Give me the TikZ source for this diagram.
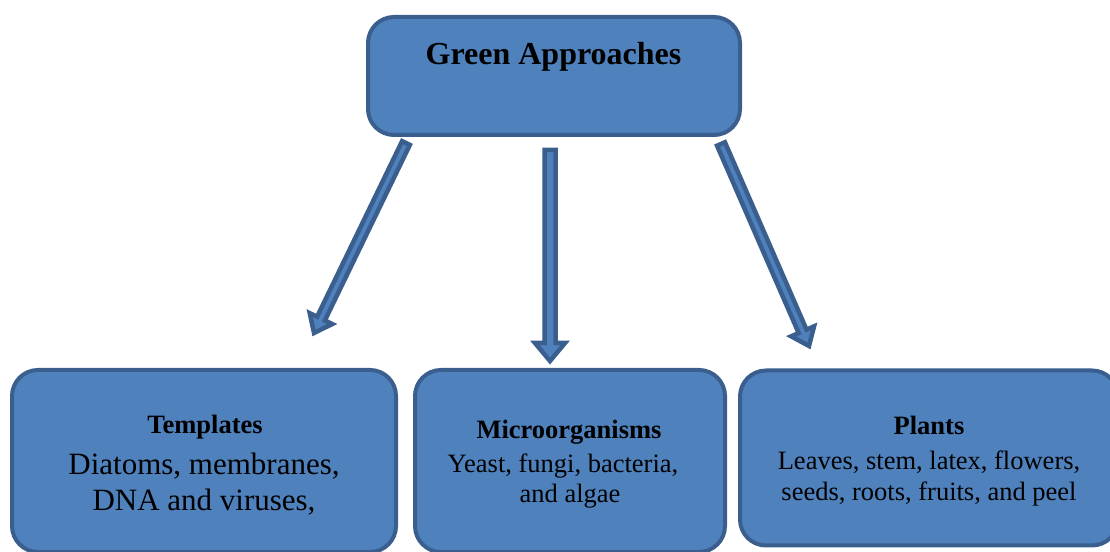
\documentclass[tikz,border=0pt]{standalone}
\usepackage{fontspec}
\setmainfont{Liberation Serif}
\newfontfamily\tnr{Liberation Serif}
\usetikzlibrary{calc}
\definecolor{boxfill}{HTML}{4F81BD}
\definecolor{boxline}{HTML}{3A5F8F}
\tikzset{
  box/.style={draw=boxline, fill=boxfill, line width=4pt, rounded corners=26pt, inner sep=0pt, rectangle},
  txt/.style={inner sep=0pt, text=black, anchor=base},
  ttl/.style={txt, font=\tnr\bfseries\fontsize{26.5}{30}\selectfont},
  body/.style={txt, font=\tnr\fontsize{26.5}{30}\selectfont},
  bigbody/.style={txt, font=\tnr\fontsize{31}{35}\selectfont},
  barrow/.style={draw=boxline, fill=boxfill, line width=4.5pt, line join=miter},
}
% #1 start, #2 end, #3 shaft half width, #4 head half width, #5 head length
\newcommand\blockarrow[5]{%
  \coordinate (#1h) at ($(#2)!#5!(#1)$);
  \draw[barrow] ($(#1)!#3!90:(#2)$) -- ($(#1h)!#3!90:(#2)$) -- ($(#1h)!#4!90:(#2)$)
    -- (#2) -- ($(#1h)!#4!-90:(#2)$) -- ($(#1h)!#3!-90:(#2)$) -- ($(#1)!#3!-90:(#2)$) -- cycle;
}
\begin{document}
\begin{tikzpicture}[x=1pt,y=1pt]
\useasboundingbox (0,0) rectangle (1110,551);
% top box
\node[box, minimum width=372, minimum height=118] (top) at (554,475) {};
\node[txt, font=\tnr\bfseries\fontsize{32}{36}\selectfont] (toptxt) at (553.5,486.5) {Green Approaches};
% bottom boxes
\node[box, minimum width=384, minimum height=182] (left) at (204,90) {};
\node[box, minimum width=310, minimum height=182] (mid) at (570,90) {};
\node[box, minimum width=378, minimum height=175] (right) at (929,93) {};
% texts
\node[ttl] (lt1) at (205,117) {Templates};
\node[bigbody] (lt2) at (204,76.5) {Diatoms, membranes,};
\node[bigbody] (lt3) at (204,40) {DNA and viruses,};
\node[ttl] (mt1) at (569,112.7) {Microorganisms};
\node[body] (mt2) at (563,78.3) {Yeast, fungi, bacteria,};
\node[body] (mt3) at (570,48.3) {and algae};
\node[ttl] (rt1) at (929,116) {Plants};
\node[body] (rt2) at (929,81.7) {Leaves, stem, latex, flowers,};
\node[body] (rt3) at (929,50.7) {seeds, roots, fruits, and peel};
% arrows
\coordinate (a1) at (406,408);
\coordinate (a1e) at (314,218);
\coordinate (a2) at (550,401);
\coordinate (a2e) at (550,190);
\coordinate (a3) at (721,407);
\coordinate (a3e) at (809,205);
\blockarrow{a1}{a1e}{4.3pt}{12.5pt}{16pt}
\blockarrow{a2}{a2e}{5.5pt}{15pt}{18pt}
\blockarrow{a3}{a3e}{4.3pt}{12.5pt}{16pt}
\end{tikzpicture}
\end{document}
